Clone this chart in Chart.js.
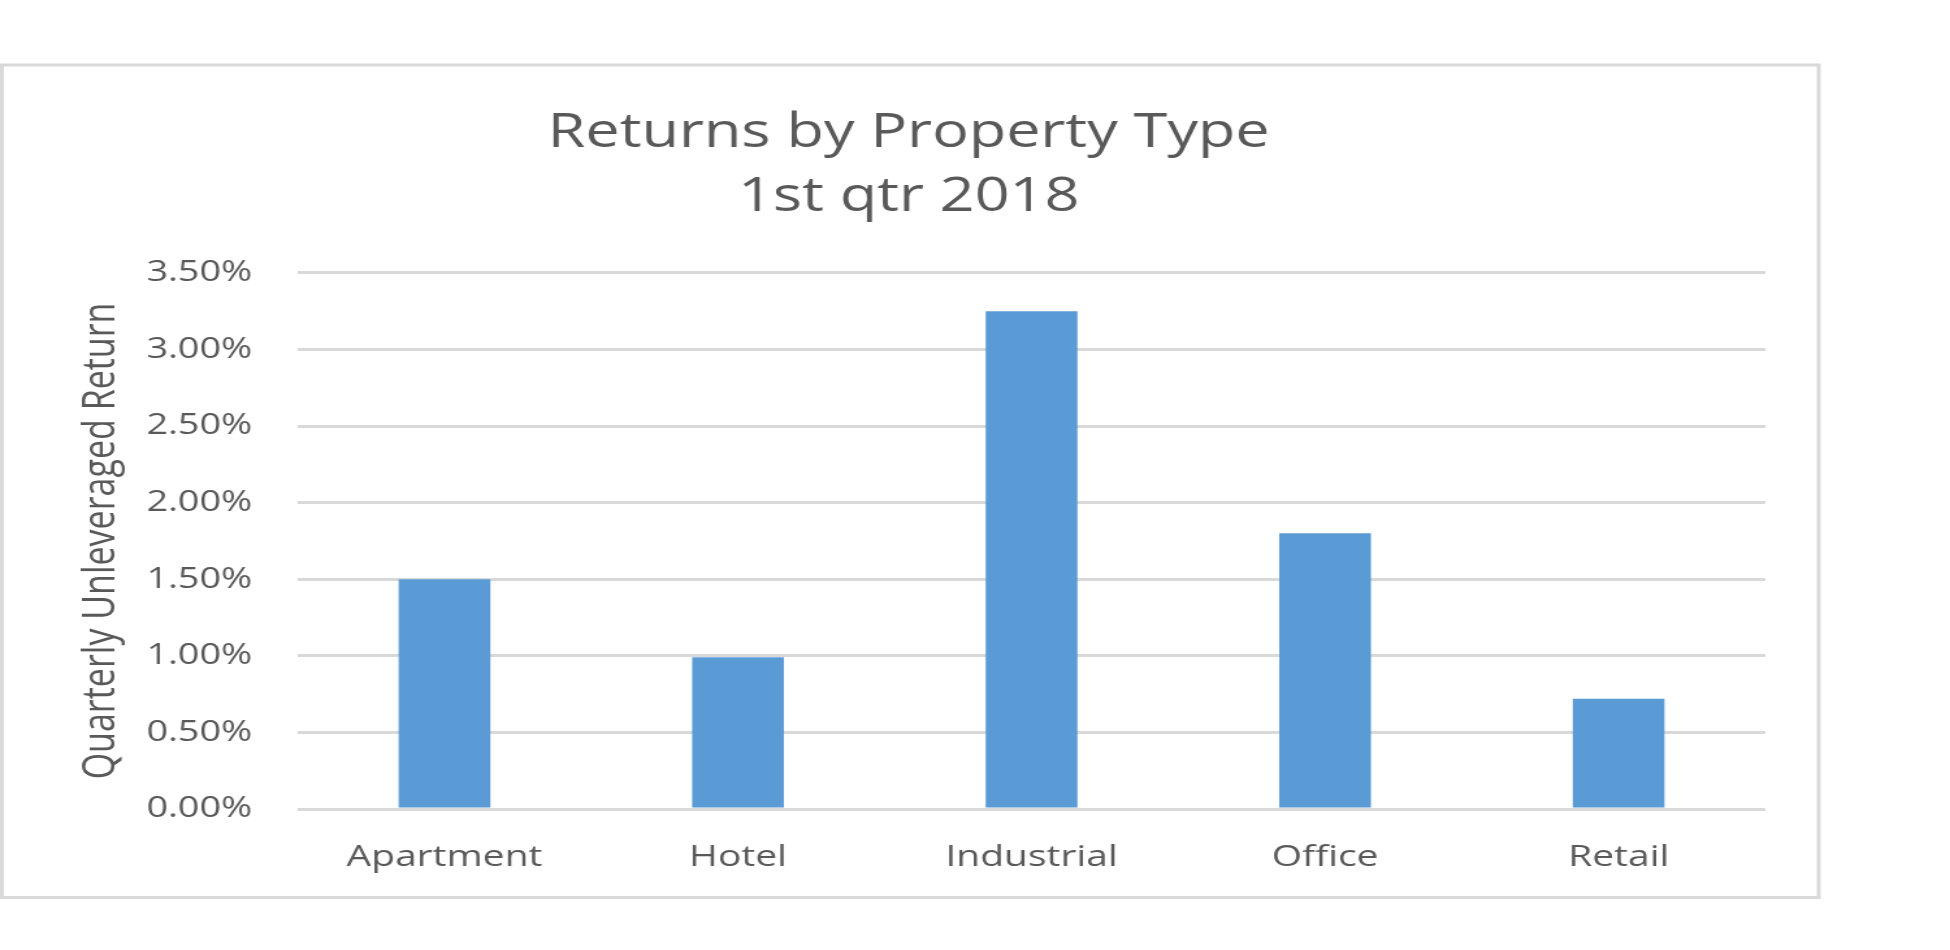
<!DOCTYPE html>
<html>
<head>
<meta charset="utf-8">
<script src="https://cdn.jsdelivr.net/npm/chart.js@4/dist/chart.umd.min.js"></script>
<style>
  html, body { margin: 0; padding: 0; background: #ffffff; overflow: hidden; }
</style>
</head>
<body>
<!-- drawn at 1500 wide and shown at 1950, the reference is stretched sideways -->
<canvas id="chart" width="1500" height="950" style="width:1950px;height:950px;"></canvas>
<script>
var categories = ["Apartment", "Hotel", "Industrial", "Office", "Retail"];
var returnsPct = [1.50, 0.99, 3.25, 1.80, 0.72];
var titleLines = ["Returns by Property Type", "1st qtr 2018"];
var yAxisTitle = "Quarterly Unleveraged Return";
var yMin = 0.0;
var yMax = 3.5;
var yStep = 0.5;

// grey frame round the chart
var framePlugin = {
    id: 'frame',
    beforeDraw: function (chart) {
        var ctx = chart.ctx;
        ctx.save();
        ctx.strokeStyle = '#d9d9d9';
        ctx.lineWidth = 3;
        ctx.strokeRect(1.5, 65, 1397.5, 832.5);
        ctx.restore();
    }
};

var chrt = document.getElementById("chart").getContext("2d");
var chartId = new Chart(chrt, {
    type: 'bar',
    data: {
        labels: categories,
        datasets: [{
            label: "Return",
            data: returnsPct,
            backgroundColor: '#5b9bd5',
            borderWidth: 0,
            barPercentage: 0.3125,
            categoryPercentage: 1.0
        }]
    },
    options: {
        responsive: false,
        animation: false,
        devicePixelRatio: 1,
        layout: {
            padding: { left: 40, right: 142, top: 0, bottom: 77 }
        },
        scales: {
            y: {
                min: yMin,
                max: yMax,
                afterFit: function (scale) { scale.width = 189; },
                grid: {
                    color: '#d9d9d9',
                    lineWidth: 3,
                    drawTicks: false
                },
                border: { display: false },
                ticks: {
                    stepSize: yStep,
                    padding: 35,
                    color: '#595959',
                    font: { family: 'Open Sans', size: 29 },
                    callback: function (val) {
                        return val.toFixed(2) + '%';
                    }
                },
                title: {
                    display: true,
                    text: yAxisTitle,
                    color: '#595959',
                    font: { family: 'Open Sans', size: 34 },
                    padding: { top: 18, bottom: 0 }
                }
            },
            x: {
                afterFit: function (scale) { scale.height = 64; },
                grid: { display: false, drawTicks: false },
                border: { display: false },
                ticks: {
                    padding: 30,
                    color: '#595959',
                    font: { family: 'Open Sans', size: 30 }
                }
            }
        },
        plugins: {
            legend: {
                display: false
            },
            tooltip: {
                enabled: false
            },
            title: {
                display: true,
                text: titleLines,
                color: '#595959',
                font: { family: 'Open Sans', size: 47, weight: 'normal', lineHeight: 1.35 },
                padding: { top: 102, bottom: 44 }
            }
        }
    },
    plugins: [framePlugin]
});
</script>
</body>
</html>
